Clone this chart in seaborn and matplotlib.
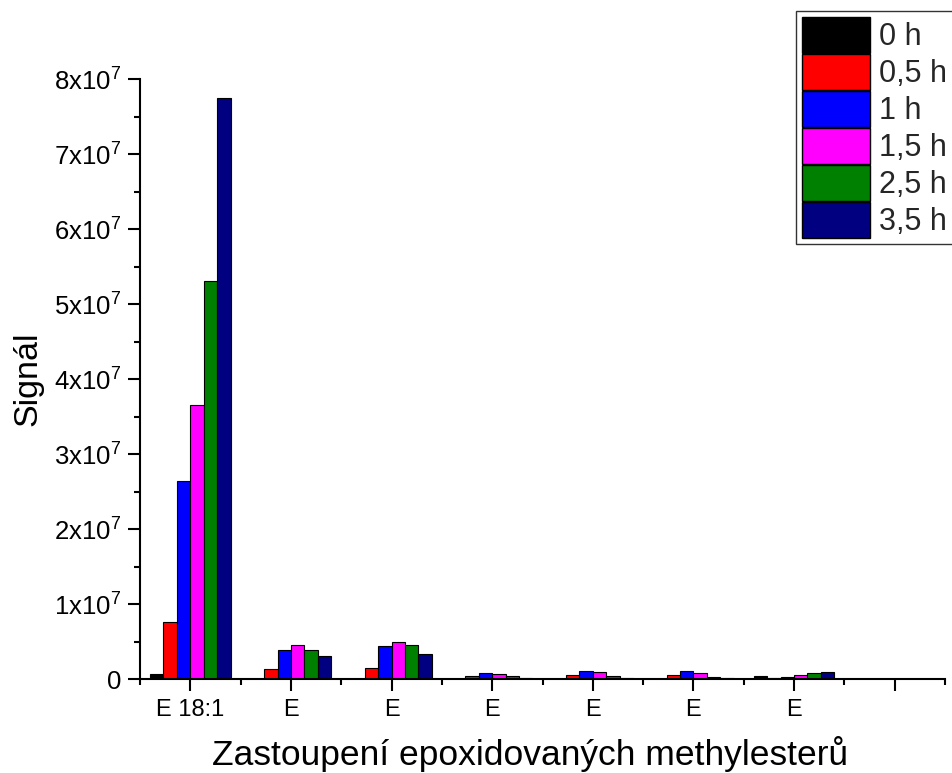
import matplotlib
matplotlib.use("Agg")
import matplotlib.pyplot as plt
import matplotlib.patches as mpatches
from matplotlib.ticker import MultipleLocator, FixedLocator, FuncFormatter
import pandas as pd
import seaborn as sns

# Categories on the x axis (the last slot is left empty)
categories = ["E 18:1", "E", "E", "E", "E", "E", "E", ""]
times = ["0 h", "0,5 h", "1 h", "1,5 h", "2,5 h", "3,5 h"]

# Signal of each epoxidised methyl ester per reaction time
signal_0h = [0.65e6, 0.0, 0.0, 0.0, 0.0, 0.0, 0.35e6]
signal_05h = [7.65e6, 1.3e6, 1.5e6, 0.36e6, 0.5e6, 0.5e6, 0.1e6]
signal_1h = [2.645e7, 3.9e6, 4.35e6, 0.76e6, 1.1e6, 1.1e6, 0.3e6]
signal_15h = [3.655e7, 4.55e6, 4.95e6, 0.62e6, 0.95e6, 0.85e6, 0.5e6]
signal_25h = [5.31e7, 3.9e6, 4.5e6, 0.4e6, 0.45e6, 0.3e6, 0.8e6]
signal_35h = [7.75e7, 3.1e6, 3.4e6, 0.18e6, 0.2e6, 0.15e6, 0.9e6]

colors = ["#000000", "#FF0000", "#0000FF", "#FF00FF", "#008000", "#000080"]

series = [signal_0h, signal_05h, signal_1h, signal_15h, signal_25h, signal_35h]
rows = []
for t, vals in zip(times, series):
    for i, v in enumerate(vals):
        rows.append({"group": i, "time": t, "signal": v})
df = pd.DataFrame(rows)

sns.set_theme(style="ticks")
plt.rcParams["font.family"] = ["Liberation Sans", "DejaVu Sans"]
plt.rcParams["mathtext.default"] = "regular"

fig = plt.figure(figsize=(9.52, 7.73), dpi=100)
ax = fig.add_axes([0.14706, 0.12160, 0.84559, 0.77620])

sns.barplot(data=df, x="group", y="signal", hue="time", order=list(range(len(categories))),
            hue_order=times, palette=colors, saturation=1, edgecolor="black", linewidth=0.8,
            width=0.8, gap=0, legend=False, ax=ax)

ax.set_xlim(-0.5, len(categories) - 0.5)
ax.set_ylim(0, 8e7)

ax.xaxis.set_major_locator(FixedLocator(list(range(len(categories)))))
ax.set_xticklabels(categories)
ax.xaxis.set_minor_locator(FixedLocator([i - 0.5 for i in range(len(categories) + 1)]))
ax.yaxis.set_major_locator(MultipleLocator(1e7))
ax.yaxis.set_minor_locator(MultipleLocator(5e6))


def sci_label(v, pos):
    n = int(round(v / 1e7))
    return "0" if n == 0 else rf"${n}x10^{{7}}$"


ax.yaxis.set_major_formatter(FuncFormatter(sci_label))

for side in ("top", "right"):
    ax.spines[side].set_visible(False)
for side in ("left", "bottom"):
    ax.spines[side].set_linewidth(1.5)
    ax.spines[side].set_color("black")

ax.tick_params(axis="both", which="major", direction="out", length=8.5, width=1.5,
               color="black", labelcolor="black")
ax.tick_params(axis="x", which="major", labelsize=17, pad=6)
ax.tick_params(axis="y", which="major", labelsize=18.5, pad=5)
ax.tick_params(axis="both", which="minor", direction="out", length=4.5, width=1.5, color="black")

ax.set_xlabel("Zastoupení epoxidovaných methylesterů", fontsize=25.5, labelpad=11, color="black")
ax.xaxis.label.set_x(0.4845)
ax.set_ylabel("Signál", fontsize=24.5, labelpad=7.5, color="black")

handles = [mpatches.Patch(facecolor=c, edgecolor="black", linewidth=1.0, label=t)
           for c, t in zip(colors, times)]
leg = ax.legend(handles=handles, loc="upper left", bbox_to_anchor=(796 / 952, 1 - 11 / 773),
                bbox_transform=fig.transFigure, borderaxespad=0, fontsize=22,
                handlelength=2.22, handleheight=1.45, labelspacing=0.02, borderpad=0.2,
                handletextpad=0.3, fancybox=False, framealpha=1, edgecolor="#333333")
leg.get_frame().set_linewidth(1.0)

fig.savefig("out.png", dpi=100)
